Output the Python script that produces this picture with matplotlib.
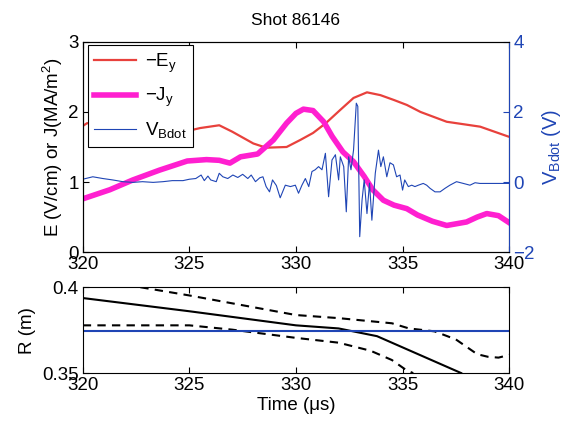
import matplotlib
matplotlib.use('Agg')
import matplotlib.pyplot as plt

plt.rcParams['font.family'] = ['Liberation Sans', 'DejaVu Sans']
plt.rcParams['mathtext.default'] = 'regular'
plt.rcParams['font.size'] = 13.5

# -E_y (V/cm)
t_e = [320.0, 320.2, 321.5, 323.0, 324.0, 324.8, 325.5, 326.4, 327.0, 328.0, 328.6,
       329.56, 330.2, 330.8, 331.4, 332.08, 332.7, 333.33, 333.96, 334.6, 335.2,
       335.84, 337.07, 338.64, 339.95]
e_y = [1.80, 1.84, 1.80, 1.75, 1.72, 1.72, 1.77, 1.81, 1.72, 1.55, 1.49,
       1.50, 1.60, 1.70, 1.84, 2.03, 2.20, 2.28, 2.24, 2.17, 2.10,
       2.00, 1.86, 1.79, 1.65]

# -J_y (MA/m^2)
t_j = [320.0, 321.27, 322.35, 323.6, 324.9, 325.8, 326.4, 326.9, 327.4, 328.2, 328.94,
       329.56, 330.0, 330.35, 330.8, 331.3, 331.7, 332.2, 332.7, 333.2, 333.6, 334.1,
       334.6, 335.2, 335.7, 336.4, 337.07, 338.0, 338.5, 338.95, 339.5, 339.95]
j_y = [0.76, 0.89, 1.03, 1.17, 1.30, 1.32, 1.31, 1.27, 1.36, 1.40, 1.60,
       1.84, 1.98, 2.04, 2.02, 1.86, 1.65, 1.43, 1.29, 1.08, 0.89, 0.74,
       0.67, 0.62, 0.53, 0.44, 0.38, 0.43, 0.50, 0.55, 0.52, 0.43]

# V_Bdot (V)
t_b = [320.0, 320.47, 320.94, 321.4, 321.88, 322.35, 322.8, 323.3, 323.76, 324.2,
       324.7, 325.0, 325.3, 325.55, 325.7, 325.87, 326.0, 326.26, 326.4, 326.57,
       326.8, 327.04, 327.27, 327.5, 327.74, 327.9, 328.1, 328.3, 328.45, 328.6,
       328.76, 328.9, 329.08, 329.26, 329.5, 329.74, 329.97, 330.12, 330.28, 330.44,
       330.6, 330.75, 330.9, 331.06, 331.22, 331.38, 331.53, 331.69, 331.85, 332.0,
       332.08, 332.24, 332.36, 332.47, 332.58, 332.7, 332.83, 332.9, 332.99, 333.1,
       333.2, 333.33, 333.45, 333.56, 333.72, 333.87, 333.98, 334.1, 334.26, 334.41,
       334.57, 334.72, 334.88, 335.0, 335.1, 335.27, 335.43, 335.58, 335.74, 335.97,
       336.13, 336.29, 336.52, 336.76, 336.99, 337.22, 337.53, 337.85, 338.16, 338.4,
       338.63, 339.3, 340.0]
v_b = [0.08, 0.15, 0.10, 0.06, 0.01, -0.01, 0.01, -0.01, 0.01, 0.04,
       0.04, 0.08, 0.10, 0.20, 0.04, 0.17, 0.06, 0.01, 0.25, 0.15,
       0.10, 0.20, 0.13, 0.22, 0.10, 0.20, 0.01, 0.12, 0.15, -0.13,
       -0.28, 0.06, -0.10, -0.45, -0.09, -0.13, -0.09, -0.32, -0.09, 0.10,
       -0.13, 0.30, 0.35, 0.44, 0.35, 0.82, -0.42, 0.63, 0.78, 0.06,
       0.72, 0.44, -0.85, 0.72, 0.35, 0.91, 2.25, 2.16, -1.56, -0.51,
       0.06, -0.90, -0.03, -1.09, 0.25, 0.91, 0.44, 0.72, 0.15, 0.55,
       0.49, 0.15, 0.20, -0.23, 0.06, -0.13, -0.09, -0.13, -0.09, -0.04,
       -0.09, -0.18, -0.28, -0.28, -0.18, -0.09, 0.01, -0.04, -0.09, -0.02,
       -0.04, -0.04, -0.04]

# R (m) traces
t_rc = [320.0, 325.0, 330.0, 332.0, 333.8, 337.75]
r_c = [0.3937, 0.386, 0.3778, 0.376, 0.3715, 0.35]
t_ru = [322.7, 325.0, 330.0, 332.0, 334.5, 335.3, 336.5, 337.5, 338.5, 339.0, 339.5, 340.0]
r_u = [0.400, 0.3952, 0.3838, 0.382, 0.379, 0.376, 0.3743, 0.3696, 0.361, 0.3595, 0.359, 0.3606]
t_rl = [320.0, 325.0, 327.0, 330.0, 332.0, 333.5, 334.5, 335.2, 335.5]
r_l = [0.3778, 0.3778, 0.3753, 0.3705, 0.3677, 0.363, 0.3576, 0.3515, 0.350]
r_ref = 0.3745

fig = plt.figure(figsize=(5.67, 4.23), dpi=100)
ax = fig.add_axes([0.146, 0.404, 0.752, 0.497])
ax2 = ax.twinx()

red = '#e8413c'
mag = '#ff1fd0'
blue = '#1f45b5'

l1, = ax.plot(t_e, e_y, color=red, lw=1.6, label=r'$-E_y$')
l2, = ax.plot(t_j, j_y, color=mag, lw=4, label=r'$-J_y$', solid_joinstyle='round')
l3, = ax2.plot(t_b, v_b, color=blue, lw=0.8, label=r'$V_{Bdot}$')

ax.set_xlim(320, 340)
ax.set_ylim(0, 3)
ax.set_yticks([0, 1, 2, 3])
ax.set_xticks([320, 325, 330, 335, 340])
ax.set_ylabel(r'E (V/cm) or J(MA/m$^2$)', labelpad=2)
ax.tick_params(direction='in', top=True, length=4, pad=3)
ax.set_title('Shot 86146', fontsize=12.5, pad=12)

ax2.set_ylim(-2, 4)
ax2.set_yticks([-2, 0, 2, 4])
ax2.tick_params(direction='in', colors=blue, length=4, pad=3)
ax2.spines['right'].set_color(blue)
ax2.set_ylabel(r'$V_{Bdot}$ (V)', color=blue, fontsize=14.5, labelpad=4)

leg = ax2.legend(handles=[l1, l2, l3], loc='upper left', bbox_to_anchor=(0.012, 0.985),
                 borderaxespad=0, fancybox=False, edgecolor='black', framealpha=1,
                 handlelength=2.2, handletextpad=0.5, labelspacing=0.6,
                 borderpad=0.35, fontsize=13.5)
leg.get_frame().set_linewidth(0.8)

bx = fig.add_axes([0.146, 0.118, 0.752, 0.203])
bx.plot(t_rc, r_c, color='black', lw=1.5)
bx.plot(t_ru, r_u, color='black', lw=1.5, ls='--', dashes=(4, 3))
bx.plot(t_rl, r_l, color='black', lw=1.5, ls='--', dashes=(4, 3))
bx.axhline(r_ref, color=blue, lw=1.5)
bx.set_xlim(320, 340)
bx.set_ylim(0.35, 0.4)
bx.set_yticks([0.35, 0.4])
bx.set_yticklabels(['0.35', '0.4'])
bx.set_xticks([320, 325, 330, 335, 340])
bx.tick_params(direction='in', top=True, right=True, length=4, pad=3)
bx.set_ylabel('R (m)')
bx.set_xlabel('Time (\u03bcs)', labelpad=2)

fig.savefig('out.png', dpi=100)
